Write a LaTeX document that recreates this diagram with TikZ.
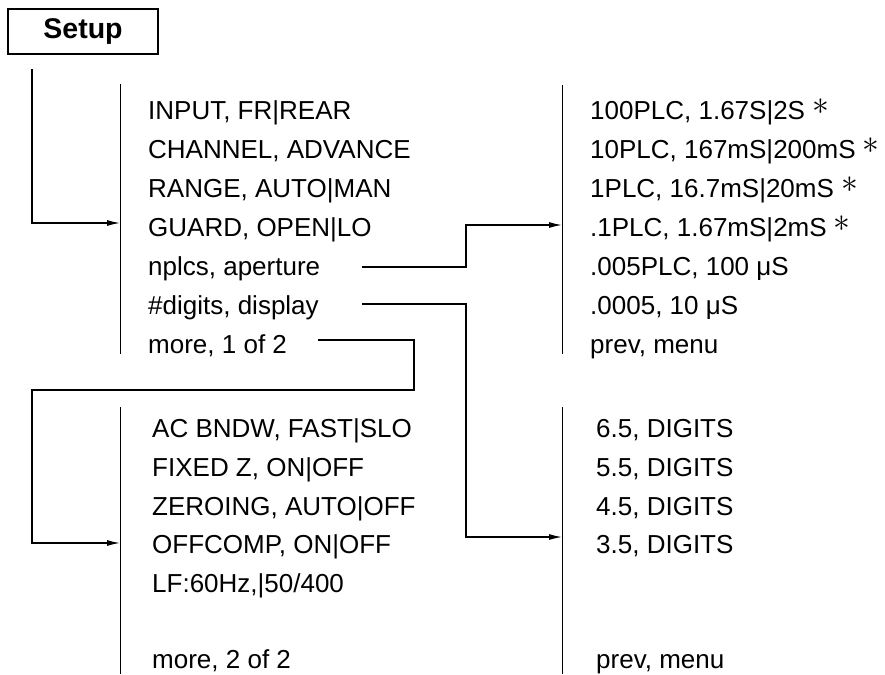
\documentclass[tikz,border=0pt]{standalone}
\usepackage{fontspec}
\setmainfont{Liberation Sans}
\usetikzlibrary{arrows.meta}
\newcommand{\mystar}{\smash{\raisebox{4.5pt}{\scalebox{1.35}{$\ast$}}}}
\tikzset{
  conn/.style={line width=1.3pt},
  arr/.style={conn,-{Latex[length=13pt,width=6pt]}},
  bar/.style={line width=0.8pt},
  item/.style={anchor=base west,inner sep=0pt,font=\fontsize{26}{30}\selectfont},
  setupbox/.style={draw,line width=2pt,minimum width=150pt,minimum height=45pt,inner sep=0pt,font=\fontsize{28.5}{30}\selectfont\bfseries}
}
\begin{document}
\begin{tikzpicture}[x=1pt,y=-1pt]
\useasboundingbox (0,0) rectangle (885,674);
\node[setupbox] (setup) at (83,31.5) {Setup};
% menu 1
\coordinate (b1t) at (120,84); \coordinate (b1b) at (120,354);
\draw[bar] (b1t) -- (b1b);
\node[item] (m1a) at (148,119) {INPUT, FR|REAR};
\node[item] (m1b) at (148,158) {CHANNEL, ADVANCE};
\node[item] (m1c) at (148,197) {RANGE, AUTO|MAN};
\node[item] (m1d) at (148,236) {GUARD, OPEN|LO};
\node[item] (m1e) at (148,275) {nplcs, aperture};
\node[item] (m1f) at (148,314) {\#digits, display};
\node[item] (m1g) at (148,353) {more, 1 of 2};
% menu 2
\coordinate (b2t) at (562,85); \coordinate (b2b) at (562,354);
\draw[bar] (b2t) -- (b2b);
\node[item] (m2a) at (590,119) {100PLC, 1.67S|2S \mystar};
\node[item] (m2b) at (590,158) {10PLC, 167mS|200mS \mystar};
\node[item] (m2c) at (590,197) {1PLC, 16.7mS|20mS \mystar};
\node[item] (m2d) at (590,236) {.1PLC, 1.67mS|2mS \mystar};
\node[item] (m2e) at (590,275) {.005PLC, 100 μS};
\node[item] (m2f) at (590,314) {.0005, 10 μS};
\node[item] (m2g) at (590,353) {prev, menu};
% menu 3
\coordinate (b3t) at (120,407); \coordinate (b3b) at (120,674);
\draw[bar] (b3t) -- (b3b);
\node[item] (m3a) at (152,437) {AC BNDW, FAST|SLO};
\node[item] (m3b) at (152,476) {FIXED Z, ON|OFF};
\node[item] (m3c) at (152,515) {ZEROING, AUTO|OFF};
\node[item] (m3d) at (152,553) {OFFCOMP, ON|OFF};
\node[item] (m3e) at (152,592) {LF:60Hz,|50/400};
\node[item] (m3g) at (152,668) {more, 2 of 2};
% menu 4
\coordinate (b4t) at (562,407); \coordinate (b4b) at (562,674);
\draw[bar] (b4t) -- (b4b);
\node[item] (m4a) at (596,437) {6.5, DIGITS};
\node[item] (m4b) at (596,476) {5.5, DIGITS};
\node[item] (m4c) at (596,515) {4.5, DIGITS};
\node[item] (m4d) at (596,553) {3.5, DIGITS};
\node[item] (m4g) at (596,668) {prev, menu};
% connectors
\coordinate (s0) at (32,69);   \coordinate (t1) at (120,223);
\coordinate (s1) at (362,267); \coordinate (t2) at (562,225);
\coordinate (s2) at (362,304); \coordinate (t4) at (562,537);
\coordinate (s3) at (318,340); \coordinate (t3) at (120,543);
\draw[arr] (s0) |- (t1);
\draw[arr] (s1) -- (466,267) |- (t2);
\draw[arr] (s2) -- (466,304) |- (t4);
\draw[arr] (s3) -- (414,340) -- (414,390) -- (32,390) |- (t3);
\end{tikzpicture}
\end{document}
